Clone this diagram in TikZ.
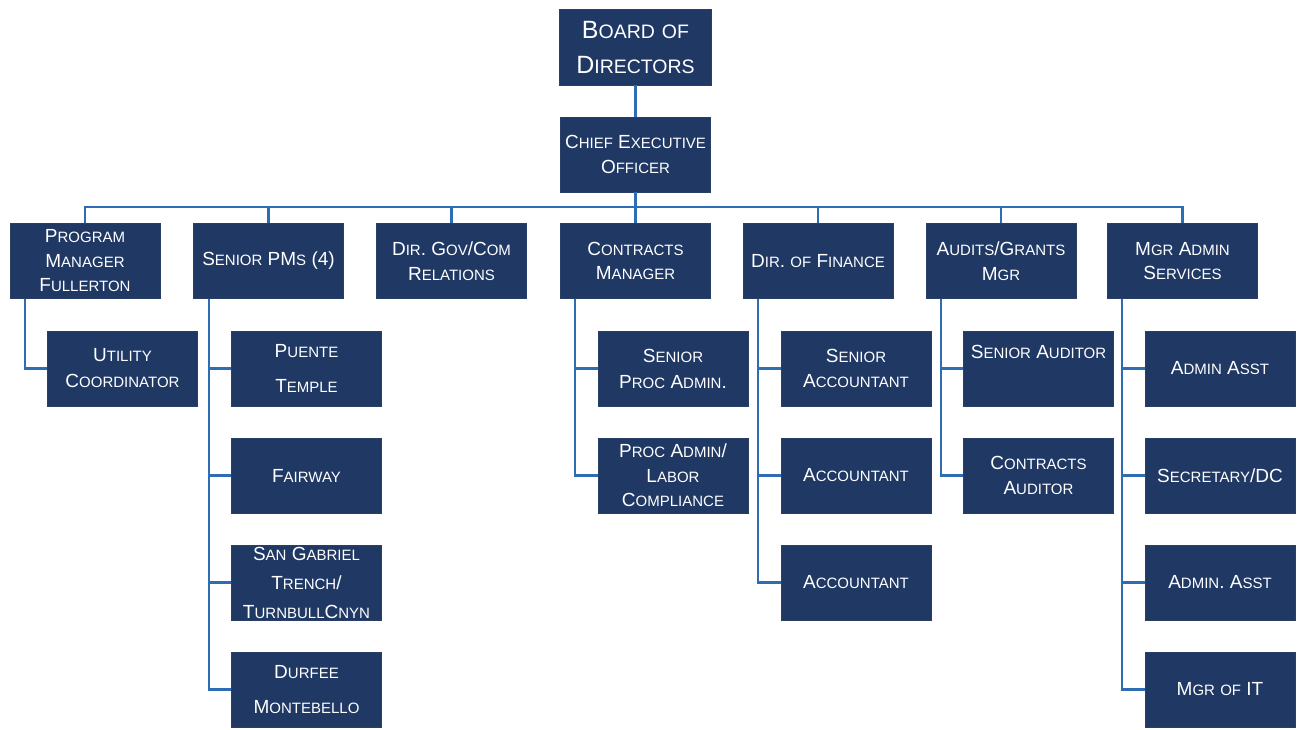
\documentclass[tikz,border=0pt]{standalone}
\usepackage{fontspec}
\setmainfont{Liberation Sans}
\definecolor{boxnavy}{HTML}{1F3864}
\definecolor{boxedge}{HTML}{2A3F66}
\definecolor{linkblue}{HTML}{2E6DB4}
\newcommand\Sm[1]{{\fontsize{15}{15}\selectfont #1}}
\newcommand\Bg[1]{{\fontsize{19.5}{19.5}\selectfont #1}}
\tikzset{
  orgbox/.style={draw=boxedge, line width=0.8pt, fill=boxnavy, text=white,
    minimum width=150pt, minimum height=75pt, inner sep=0pt, align=center,
    font=\fontsize{19}{24.5}\selectfont},
  link/.style={draw=linkblue, line width=2.2pt},
}
\begin{document}
\begin{tikzpicture}[x=1pt,y=-1pt]
\fill[white] (0,0) rectangle (1299,729);
\useasboundingbox (0,0) rectangle (1299,729);

% top
\node[orgbox, minimum width=152pt, minimum height=76pt, font=\fontsize{25}{35}\selectfont] (board) at (635.5,47) {B\Bg{OARD} \Bg{OF}\\D\Bg{IRECTORS}};
\node[orgbox, font=\fontsize{19}{25}\selectfont] (ceo) at (635.5,154.5) {C\Sm{HIEF} E\Sm{XECUTIVE}\\O\Sm{FFICER}};

% level 2
\node[orgbox] (pm)  at (85,261)    {P\Sm{ROGRAM}\\M\Sm{ANAGER}\\F\Sm{ULLERTON}};
\node[orgbox] (spm) at (268.5,261) {S\Sm{ENIOR} PM\Sm{S} (4)};
\node[orgbox] (gov) at (451.5,261) {D\Sm{IR}. G\Sm{OV}/C\Sm{OM}\\R\Sm{ELATIONS}};
\node[orgbox] (cm)  at (635.5,261) {C\Sm{ONTRACTS}\\M\Sm{ANAGER}};
\node[orgbox] (fin) at (818,261)   {D\Sm{IR}. \Sm{OF} F\Sm{INANCE}};
\node[orgbox] (aud) at (1001,261)  {A\Sm{UDITS}/G\Sm{RANTS}\\M\Sm{GR}};
\node[orgbox] (adm) at (1182.5,261){M\Sm{GR} A\Sm{DMIN}\\S\Sm{ERVICES}};

% level 3
\node[orgbox] (uc)  at (122.5,368.5) {U\Sm{TILITY}\\[1.5pt]C\Sm{OORDINATOR}};

\node[orgbox] (p1)  at (306.5,368.5) {P\Sm{UENTE}\\[10pt]T\Sm{EMPLE}};
\node[orgbox] (p2)  at (306.5,475.5) {F\Sm{AIRWAY}};
\node[orgbox] (p3)  at (306.5,582.5) {S\Sm{AN} G\Sm{ABRIEL}\\[4.5pt]T\Sm{RENCH}/\\[4.5pt]T\Sm{URNBULL}C\Sm{NYN}};
\node[orgbox] (p4)  at (306.5,689.5) {D\Sm{URFEE}\\[10pt]M\Sm{ONTEBELLO}};

\node[orgbox] (c1)  at (673,368.5) {S\Sm{ENIOR}\\[1.5pt]P\Sm{ROC} A\Sm{DMIN}.};
\node[orgbox] (c2)  at (673,475.5) {P\Sm{ROC} A\Sm{DMIN}/\\L\Sm{ABOR}\\C\Sm{OMPLIANCE}};

\node[orgbox] (f1)  at (856,368.5) {S\Sm{ENIOR}\\A\Sm{CCOUNTANT}};
\node[orgbox] (f2)  at (856,475.5) {A\Sm{CCOUNTANT}};
\node[orgbox] (f3)  at (856,582.5) {A\Sm{CCOUNTANT}};

\node[orgbox] (a1)  at (1038.5,368.5) {S\Sm{ENIOR} A\Sm{UDITOR}\\[8pt]\mbox{}};
\node[orgbox] (a2)  at (1038.5,475.5) {C\Sm{ONTRACTS}\\A\Sm{UDITOR}};

\node[orgbox] (s1)  at (1220,368.5) {A\Sm{DMIN} A\Sm{SST}};
\node[orgbox] (s2)  at (1220,475.5) {S\Sm{ECRETARY}/DC};
\node[orgbox] (s3)  at (1220,582.5) {A\Sm{DMIN}. A\Sm{SST}};
\node[orgbox] (s4)  at (1220,689.5) {M\Sm{GR} \Sm{OF} IT};

% connectors top
\draw[link] (board.south) -- (ceo.north);
\foreach \n in {pm,spm,gov,cm,fin,aud,adm}{
  \draw[link] (ceo.south) |- ([yshift=16pt]\n.north) -- (\n.north);
}
% connectors level 3
\draw[link] ([xshift=15pt]pm.south west) |- (uc.west);
\foreach \c in {p1,p2,p3,p4}{\draw[link] ([xshift=16pt]spm.south west) |- (\c.west);}
\foreach \c in {c1,c2}{\draw[link] ([xshift=15pt]cm.south west) |- (\c.west);}
\foreach \c in {f1,f2,f3}{\draw[link] ([xshift=15pt]fin.south west) |- (\c.west);}
\foreach \c in {a1,a2}{\draw[link] ([xshift=15pt]aud.south west) |- (\c.west);}
\foreach \c in {s1,s2,s3,s4}{\draw[link] ([xshift=15pt]adm.south west) |- (\c.west);}

% redraw boxes over connector ends
\end{tikzpicture}
\end{document}
